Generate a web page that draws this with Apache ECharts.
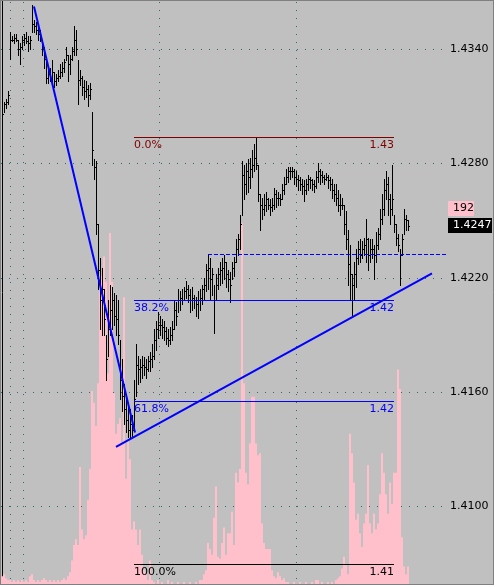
<!DOCTYPE html>
<html>
<head>
<meta charset="utf-8">
<script src="https://cdn.jsdelivr.net/npm/echarts@6/dist/echarts.min.js"></script>
<style>
html, body { margin: 0; padding: 0; background: #ffffff; }
#chart { width: 496px; height: 587px; }
</style>
</head>
<body>
<div id="chart"></div>
<script>
// one bar every 2px, index 0 is the first bar at the left edge
const highs = [
  1.4308, 1.4312, 1.4314, 1.4318, 1.4349, 1.4347, 1.4348, 1.4348, 1.4345, 1.4343, 1.4347, 1.4348, 1.4349, 1.4347, 1.4347,
  1.4363, 1.4355, 1.4354, 1.4352, 1.4350, 1.4344, 1.4341, 1.4334, 1.4329, 1.4330, 1.4334, 1.4328, 1.4327, 1.4329, 1.4332,
  1.4333, 1.4335, 1.4341, 1.4337, 1.4337, 1.4341, 1.4352, 1.4350, 1.4334, 1.4329, 1.4326, 1.4324, 1.4323, 1.4321, 1.4322,
  1.4307, 1.4282, 1.4281, 1.4248, 1.4230, 1.4225, 1.4214, 1.4190, 1.4208, 1.4216, 1.4215, 1.4212, 1.4211, 1.4208, 1.4187,
  1.4177, 1.4164, 1.4158, 1.4153, 1.4151, 1.4148, 1.4166, 1.4185, 1.4179, 1.4177, 1.4179, 1.4178, 1.4177, 1.4179, 1.4181,
  1.4185, 1.4193, 1.4197, 1.4202, 1.4200, 1.4198, 1.4197, 1.4194, 1.4193, 1.4194, 1.4197, 1.4208, 1.4207, 1.4214, 1.4213,
  1.4214, 1.4215, 1.4218, 1.4216, 1.4214, 1.4215, 1.4211, 1.4210, 1.4213, 1.4214, 1.4216, 1.4220, 1.4227, 1.4232, 1.4230,
  1.4225, 1.4216, 1.4222, 1.4225, 1.4228, 1.4230, 1.4232, 1.4228, 1.4224, 1.4223, 1.4228, 1.4231, 1.4240, 1.4243, 1.4253,
  1.4281, 1.4279, 1.4280, 1.4282, 1.4283, 1.4287, 1.4290, 1.4294, 1.4279, 1.4264, 1.4262, 1.4264, 1.4265, 1.4262, 1.4261,
  1.4262, 1.4267, 1.4266, 1.4265, 1.4264, 1.4269, 1.4273, 1.4277, 1.4278, 1.4278, 1.4278, 1.4277, 1.4276, 1.4274, 1.4273,
  1.4272, 1.4271, 1.4272, 1.4274, 1.4273, 1.4272, 1.4271, 1.4276, 1.4280, 1.4277, 1.4276, 1.4274, 1.4275, 1.4274, 1.4273,
  1.4272, 1.4269, 1.4269, 1.4266, 1.4264, 1.4262, 1.4258, 1.4255, 1.4245, 1.4237, 1.4222, 1.4228, 1.4235, 1.4239, 1.4240,
  1.4239, 1.4241, 1.4251, 1.4241, 1.4240, 1.4240, 1.4237, 1.4244, 1.4246, 1.4256, 1.4264, 1.4272, 1.4276, 1.4273, 1.4264,
  1.4279, 1.4253, 1.4248, 1.4243, 1.4235, 1.4243, 1.4256, 1.4253, 1.4250
]
const lows = [
  1.4300, 1.4307, 1.4309, 1.4311, 1.4335, 1.4344, 1.4343, 1.4344, 1.4337, 1.4332, 1.4340, 1.4342, 1.4343, 1.4339, 1.4340,
  1.4349, 1.4349, 1.4348, 1.4345, 1.4344, 1.4337, 1.4330, 1.4322, 1.4322, 1.4323, 1.4322, 1.4320, 1.4321, 1.4323, 1.4325,
  1.4326, 1.4328, 1.4334, 1.4323, 1.4327, 1.4334, 1.4337, 1.4337, 1.4311, 1.4321, 1.4316, 1.4314, 1.4315, 1.4310, 1.4314,
  1.4279, 1.4272, 1.4243, 1.4214, 1.4193, 1.4190, 1.4190, 1.4166, 1.4179, 1.4190, 1.4193, 1.4195, 1.4190, 1.4185, 1.4156,
  1.4150, 1.4143, 1.4139, 1.4136, 1.4136, 1.4137, 1.4140, 1.4158, 1.4164, 1.4165, 1.4167, 1.4169, 1.4167, 1.4171, 1.4171,
  1.4173, 1.4177, 1.4182, 1.4188, 1.4190, 1.4188, 1.4187, 1.4185, 1.4184, 1.4185, 1.4187, 1.4193, 1.4195, 1.4202, 1.4203,
  1.4206, 1.4208, 1.4209, 1.4207, 1.4202, 1.4203, 1.4204, 1.4200, 1.4199, 1.4203, 1.4206, 1.4208, 1.4213, 1.4214, 1.4208,
  1.4211, 1.4191, 1.4208, 1.4214, 1.4216, 1.4217, 1.4219, 1.4215, 1.4213, 1.4207, 1.4219, 1.4221, 1.4228, 1.4232, 1.4235,
  1.4253, 1.4261, 1.4264, 1.4265, 1.4267, 1.4273, 1.4276, 1.4277, 1.4260, 1.4245, 1.4251, 1.4253, 1.4255, 1.4256, 1.4253,
  1.4255, 1.4256, 1.4257, 1.4258, 1.4258, 1.4261, 1.4264, 1.4269, 1.4270, 1.4272, 1.4273, 1.4269, 1.4268, 1.4266, 1.4266,
  1.4264, 1.4260, 1.4264, 1.4266, 1.4267, 1.4266, 1.4265, 1.4267, 1.4270, 1.4269, 1.4270, 1.4269, 1.4271, 1.4267, 1.4266,
  1.4262, 1.4260, 1.4258, 1.4255, 1.4253, 1.4256, 1.4243, 1.4235, 1.4216, 1.4208, 1.4200, 1.4208, 1.4215, 1.4227, 1.4228,
  1.4230, 1.4232, 1.4228, 1.4224, 1.4228, 1.4230, 1.4219, 1.4228, 1.4235, 1.4240, 1.4248, 1.4253, 1.4261, 1.4253, 1.4248,
  1.4253, 1.4244, 1.4237, 1.4234, 1.4216, 1.4232, 1.4243, 1.4245, 1.4245
]
const closes = [
  1.4306, 1.4311, 1.4312, 1.4316, 1.4345, 1.4345, 1.4346, 1.4345, 1.4340, 1.4341, 1.4345, 1.4346, 1.4344, 1.4343, 1.4345,
  1.4353, 1.4352, 1.4350, 1.4348, 1.4346, 1.4340, 1.4335, 1.4325, 1.4327, 1.4325, 1.4328, 1.4323, 1.4325, 1.4326, 1.4328,
  1.4330, 1.4333, 1.4337, 1.4332, 1.4335, 1.4339, 1.4345, 1.4340, 1.4324, 1.4325, 1.4320, 1.4318, 1.4319, 1.4316, 1.4319,
  1.4287, 1.4278, 1.4248, 1.4224, 1.4208, 1.4214, 1.4198, 1.4177, 1.4193, 1.4203, 1.4208, 1.4200, 1.4198, 1.4190, 1.4166,
  1.4158, 1.4151, 1.4145, 1.4140, 1.4143, 1.4140, 1.4156, 1.4174, 1.4172, 1.4173, 1.4174, 1.4173, 1.4172, 1.4176, 1.4177,
  1.4179, 1.4187, 1.4193, 1.4195, 1.4195, 1.4194, 1.4192, 1.4188, 1.4187, 1.4190, 1.4193, 1.4203, 1.4200, 1.4208, 1.4209,
  1.4208, 1.4213, 1.4214, 1.4211, 1.4208, 1.4209, 1.4208, 1.4206, 1.4208, 1.4209, 1.4214, 1.4216, 1.4224, 1.4225, 1.4219,
  1.4222, 1.4208, 1.4216, 1.4222, 1.4224, 1.4225, 1.4228, 1.4222, 1.4219, 1.4216, 1.4225, 1.4228, 1.4235, 1.4240, 1.4248,
  1.4274, 1.4269, 1.4276, 1.4273, 1.4277, 1.4279, 1.4283, 1.4279, 1.4264, 1.4258, 1.4256, 1.4258, 1.4261, 1.4258, 1.4257,
  1.4258, 1.4264, 1.4262, 1.4262, 1.4261, 1.4266, 1.4269, 1.4273, 1.4276, 1.4276, 1.4276, 1.4273, 1.4272, 1.4271, 1.4269,
  1.4268, 1.4266, 1.4269, 1.4272, 1.4271, 1.4269, 1.4268, 1.4273, 1.4276, 1.4274, 1.4273, 1.4272, 1.4273, 1.4271, 1.4269,
  1.4266, 1.4264, 1.4262, 1.4258, 1.4258, 1.4258, 1.4248, 1.4240, 1.4227, 1.4222, 1.4216, 1.4222, 1.4230, 1.4235, 1.4232,
  1.4235, 1.4237, 1.4240, 1.4232, 1.4235, 1.4235, 1.4232, 1.4237, 1.4243, 1.4251, 1.4256, 1.4266, 1.4269, 1.4261, 1.4256,
  1.4261, 1.4248, 1.4241, 1.4237, 1.4232, 1.4240, 1.4251, 1.4250, 1.4247
]
const volumes = [
  4, 5, 3, 2, 2, 1, 2, 1, 2, 1, 2, 1, 2, 1, 4,
  5, 2, 1, 2, 1, 2, 3, 2, 1, 2, 1, 2, 1, 2, 1,
  2, 3, 2, 4, 6, 12, 20, 23, 20, 60, 28, 23, 25, 43, 59,
  99, 93, 81, 103, 150, 158, 168, 155, 108, 180, 155, 98, 77, 82, 85,
  72, 147, 54, 74, 64, 28, 32, 28, 20, 28, 15, 7, 5, 2, 12,
  2, 1, 0, 2, 0, 1, 0, 0, 2, 0, 1, 0, 0, 1, 0,
  0, 1, 0, 0, 1, 0, 0, 1, 0, 2, 2, 5, 7, 21, 18,
  15, 34, 50, 14, 13, 21, 29, 15, 26, 26, 37, 20, 57, 52, 59,
  185, 103, 57, 51, 72, 96, 96, 72, 66, 67, 31, 21, 18, 18, 18,
  7, 4, 3, 6, 4, 2, 3, 1, 1, 0, 0, 1, 0, 0, 1,
  0, 0, 1, 0, 0, 1, 0, 2, 2, 0, 1, 0, 0, 1, 0,
  1, 0, 2, 3, 4, 8, 14, 10, 5, 77, 67, 52, 33, 36, 26,
  19, 31, 36, 61, 31, 26, 36, 28, 31, 46, 67, 57, 46, 36, 52,
  41, 57, 57, 110, 100, 24, 9, 5, 9
]

const priceTicks = [1.4340, 1.4280, 1.4220, 1.4160, 1.4100]
const timeGrid = [4, 10.5, 78.5, 147]

// fibonacci retracement drawn from bar 66 to bar 196
const fibHigh = 1.42938
const fibLow = 1.40698
const fibLevels = [0, 38.2, 61.8, 100]
const fibColors = ['#800000', '#0000ff', '#0000ff', '#000000']
const fibFrom = 66
const fibTo = 196

const dashLevel = 1.42323
const dashFrom = 103
const trendDown = [[16, 1.43626], [66.5, 1.41389]]
const trendUp = [[57, 1.41313], [215, 1.42224]]
const currentVolume = 192

const FONT = '11px "DejaVu Sans"'

const chart = echarts.init(document.getElementById('chart'))

const option = {
  animation: false,
  backgroundColor: '#c0c0c0',
  grid: { left: 1, right: 49, top: 1, bottom: 3 },
  xAxis: { type: 'value', min: -0.5, max: 222.5, show: false },
  yAxis: [
    {
      type: 'value', position: 'right', min: 1.40593, max: 1.43655, scale: true,
      axisLine: { show: true, lineStyle: { color: '#000000', width: 1 } },
      axisTick: { show: false }, axisLabel: { show: false }, splitLine: { show: false }
    },
    { type: 'value', min: 0, max: 299, show: false }
  ],
  series: [
    {
      type: 'bar',
      yAxisIndex: 1,
      data: volumes.map((v, i) => [i, v]),
      barWidth: 2,
      itemStyle: { color: '#ffc0cb' },
      silent: true,
      z: 1
    },
    {
      type: 'custom',
      data: highs.map((h, i) => [i, h, lows[i], closes[i]]),
      renderItem: (params, api) => {
        const i = api.value(0)
        const top = api.coord([i, api.value(1)])
        const bot = api.coord([i, api.value(2)])
        const cls = api.coord([i, api.value(3)])
        const x = Math.floor(top[0])
        const y1 = Math.floor(top[1])
        const y2 = Math.floor(bot[1])
        return {
          type: 'group',
          children: [
            { type: 'rect', shape: { x: x, y: y1, width: 1, height: Math.max(1, y2 - y1 + 1) }, style: { fill: '#000000' } },
            { type: 'rect', shape: { x: x + 1, y: Math.floor(cls[1]), width: 1, height: 1 }, style: { fill: '#000000' } }
          ]
        }
      },
      silent: true,
      z: 3
    },
    {
      type: 'line', data: trendDown, symbol: 'none', silent: true, z: 6,
      lineStyle: { color: '#0000ff', width: 2 }
    },
    {
      type: 'line', data: trendUp, symbol: 'none', silent: true, z: 6,
      lineStyle: { color: '#0000ff', width: 2 }
    }
  ]
}

chart.setOption(option)

const toPx = (u, p) => chart.convertToPixel({ xAxisIndex: 0, yAxisIndex: 0 }, [u, p])
const graphic = []

// dotted grid
priceTicks.forEach(p => {
  const y = Math.floor(toPx(0, p)[1]) + 0.5
  graphic.push({
    type: 'line', z: 0, silent: true,
    shape: { x1: 1, y1: y, x2: 443, y2: y },
    style: { stroke: '#2b6b6b', lineWidth: 1, lineDash: [1, 7] }
  })
  graphic.push({
    type: 'text', z: 10, silent: true, x: 450, y: y,
    style: { text: p.toFixed(4), font: FONT, fill: '#000000', verticalAlign: 'middle' }
  })
})
timeGrid.forEach(u => {
  const x = Math.floor(toPx(u, fibHigh)[0]) + 0.5
  graphic.push({
    type: 'line', z: 0, silent: true,
    shape: { x1: x, y1: 2, x2: x, y2: 584 },
    style: { stroke: '#2b6b6b', lineWidth: 1, lineDash: [1, 7] }
  })
})

// fibonacci levels
fibLevels.forEach((lvl, k) => {
  const p = fibHigh - (fibHigh - fibLow) * lvl / 100
  const a = toPx(fibFrom, p)
  const b = toPx(fibTo, p)
  const y = Math.floor(a[1]) + 0.5
  const x1 = Math.floor(a[0])
  const x2 = Math.floor(b[0])
  graphic.push({
    type: 'line', z: 8, silent: true,
    shape: { x1: x1, y1: y, x2: x2, y2: y },
    style: { stroke: fibColors[k], lineWidth: 1 }
  })
  graphic.push({
    type: 'text', z: 8, silent: true, x: x1, y: y + 2,
    style: { text: lvl.toFixed(1) + '%', font: FONT, fill: fibColors[k], verticalAlign: 'top' }
  })
  graphic.push({
    type: 'text', z: 8, silent: true, x: x2, y: y + 2,
    style: { text: p.toFixed(2), font: FONT, fill: fibColors[k], align: 'right', verticalAlign: 'top' }
  })
})

// dashed level line
{
  const a = toPx(dashFrom, dashLevel)
  const y = Math.floor(a[1]) + 0.5
  graphic.push({
    type: 'line', z: 8, silent: true,
    shape: { x1: Math.floor(a[0]), y1: y, x2: 447, y2: y },
    style: { stroke: '#0000ff', lineWidth: 1, lineDash: [4, 2] }
  })
}

// current volume and bid labels on the price scale
{
  const vy = Math.floor(chart.convertToPixel({ xAxisIndex: 0, yAxisIndex: 1 }, [0, currentVolume])[1])
  graphic.push({ type: 'rect', z: 10, silent: true, shape: { x: 448, y: vy - 8, width: 26, height: 15 }, style: { fill: '#ffc0cb' } })
  graphic.push({
    type: 'text', z: 11, silent: true, x: 453, y: vy - 0.5,
    style: { text: String(currentVolume), font: FONT, fill: '#000000', verticalAlign: 'middle' }
  })
  const last = closes[closes.length - 1]
  const py = Math.floor(toPx(0, last)[1])
  graphic.push({ type: 'rect', z: 10, silent: true, shape: { x: 448, y: py - 8, width: 44, height: 15 }, style: { fill: '#000000' } })
  graphic.push({
    type: 'text', z: 11, silent: true, x: 453, y: py - 0.5,
    style: { text: last.toFixed(4), font: FONT, fill: '#ffffff', verticalAlign: 'middle' }
  })
}

// window frame
graphic.push({ type: 'rect', z: 20, silent: true, shape: { x: 494, y: 0, width: 2, height: 587 }, style: { fill: '#ffffff' } })
graphic.push({ type: 'rect', z: 20, silent: true, shape: { x: 0, y: 585, width: 496, height: 2 }, style: { fill: '#ffffff' } })
graphic.push({ type: 'line', z: 21, silent: true, shape: { x1: 0, y1: 0.5, x2: 494, y2: 0.5 }, style: { stroke: '#808080', lineWidth: 1 } })
graphic.push({ type: 'line', z: 21, silent: true, shape: { x1: 0.5, y1: 0, x2: 0.5, y2: 585 }, style: { stroke: '#808080', lineWidth: 1 } })
graphic.push({ type: 'line', z: 21, silent: true, shape: { x1: 493.5, y1: 0, x2: 493.5, y2: 585 }, style: { stroke: '#808080', lineWidth: 1 } })
graphic.push({ type: 'line', z: 21, silent: true, shape: { x1: 0, y1: 584.5, x2: 494, y2: 584.5 }, style: { stroke: '#808080', lineWidth: 1 } })

chart.setOption({ graphic: graphic })
</script>
</body>
</html>
